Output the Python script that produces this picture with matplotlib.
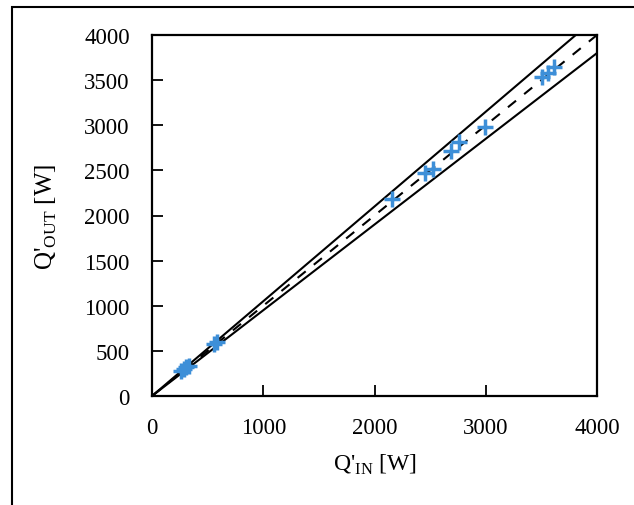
import matplotlib
matplotlib.use("Agg")
import matplotlib.pyplot as plt
from matplotlib.patches import Rectangle
import numpy as np

plt.rcParams['font.family'] = ['Liberation Serif', 'DejaVu Serif']
plt.rcParams['mathtext.fontset'] = 'custom'
plt.rcParams['mathtext.rm'] = 'Liberation Serif'

q_in = [265, 290, 310, 335, 560, 580, 2160, 2450, 2530, 2690, 2760, 2990, 3510, 3560, 3610]
q_out = [280, 300, 320, 330, 580, 600, 2180, 2470, 2520, 2720, 2810, 2980, 3540, 3580, 3640]
ref_x = [0, 4000]
upper_factor = 1.05
lower_factor = 0.95

fig = plt.figure(figsize=(6.34, 5.06), dpi=100)
ax = fig.add_axes([152/634, 1-397/506, 445/634, 361/506])

rx = np.array(ref_x, dtype=float)
ax.plot(rx, rx * upper_factor, color='black', lw=1.5)
ax.plot(rx, rx * lower_factor, color='black', lw=1.5)
ax.plot(rx, rx, color='black', lw=1.5, ls=(0, (5, 5)))
ax.plot(q_in, q_out, ls='none', marker='+', ms=12, mew=2.5, color='#3D8FD8', zorder=3)

ax.set_xlim(0, 4000)
ax.set_ylim(0, 4000)
ax.set_xticks([0, 1000, 2000, 3000, 4000])
ax.set_yticks(np.arange(0, 4001, 500))
ax.tick_params(direction='in', length=8, width=1.3, labelsize=16.5)
ax.tick_params(axis='x', pad=15)
ax.tick_params(axis='y', pad=16)
for s in ax.spines.values():
    s.set_linewidth(1.6)

ax.set_xlabel(r"Q'$_{\mathregular{IN}}$ [W]", fontsize=17, labelpad=10)
ax.set_ylabel(r"Q'$_{\mathregular{OUT}}$ [W]", fontsize=18, labelpad=18)

fig.patches.append(Rectangle((12/634, -0.1), 1.2, 1.1 - 8/506, transform=fig.transFigure,
                             fill=False, edgecolor='black', lw=1.5))

fig.savefig('out.png', dpi=100)
